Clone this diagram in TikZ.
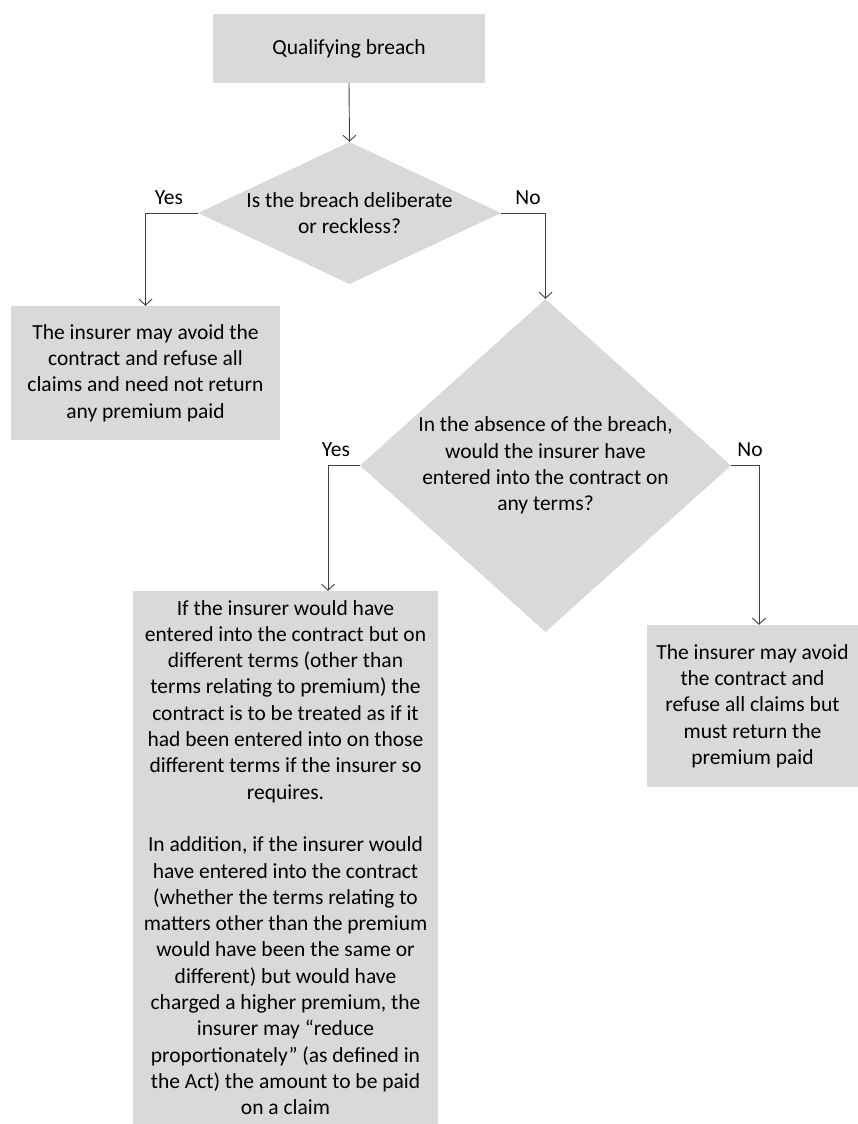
\documentclass[tikz,border=0pt]{standalone}
\usepackage{fontspec}
\setmainfont{Carlito}
\usetikzlibrary{positioning}
\usetikzlibrary{shapes.geometric}
\usetikzlibrary{arrows.meta}
\definecolor{boxgray}{HTML}{D9D9D9}
\definecolor{linegray}{HTML}{404040}

\begin{document}
\begin{tikzpicture}[x=1pt,y=-1pt,
    every node/.style={font=\fontsize{21.5pt}{26.3pt}\selectfont, align=center},
    >={Straight Barb[length=6pt,width=13pt]}]
    \tikzstyle outcome=[fill=boxgray, inner sep=0pt]
    \tikzstyle decision=[diamond, fill=boxgray, inner sep=0pt]
    \tikzstyle link=[color=linegray, line width=0.9pt, ->]

    \useasboundingbox (0,0) rectangle (858,1124);

    % Boxes and questions:
    \node[outcome, minimum width=272pt, minimum height=69pt] (breach) at (349,48.5) {Qualifying breach};
    \node[decision, minimum width=303pt, minimum height=142pt] (deliberate) at (349.5,213) {};
    \node (deliberatetext) at (deliberate.center) {Is the breach deliberate\\or reckless?};
    \node[outcome, minimum width=269pt, minimum height=134pt] (avoidall) at (145.5,373)
        {The insurer may avoid the\\contract and refuse all\\claims and need not return\\any premium paid};
    \node[decision, minimum width=371pt, minimum height=333pt] (anyterms) at (545.5,465.5) {};
    \node (anytermstext) at (anyterms.center)
        {In the absence of the breach,\\would the insurer have\\entered into the contract on\\any terms?};
    \node[outcome, minimum width=305pt, minimum height=533pt] (otherterms) at (285.5,857.5)
        {If the insurer would have\\entered into the contract but on\\different terms (other than\\terms relating to premium) the\\contract is to be treated as if it\\had been entered into on those\\different terms if the insurer so\\requires.\\[26.3pt]
         In addition, if the insurer would\\have entered into the contract\\(whether the terms relating to\\matters other than the premium\\would have been the same or\\different) but would have\\charged a higher premium, the\\insurer may “reduce\\proportionately” (as defined in\\the Act) the amount to be paid\\on a claim};
    \node[outcome, minimum width=211pt, minimum height=162pt] (returnpremium) at (752.5,706)
        {The insurer may avoid\\the contract and\\refuse all claims but\\must return the\\premium paid};

    % Labels:
    \node (yesone) at (169,198) {Yes};
    \node (noone) at (528,198) {No};
    \node (yestwo) at (336,450) {Yes};
    \node (notwo) at (750,450) {No};

    % Connectors
    \coordinate (yesturn) at (328,465.5);
    \coordinate (noturn) at (759,465.5);
    \draw[link] (breach.south) -- (deliberate.north);
    \draw[link] (deliberate.west) -| (avoidall.north); % yes
    \draw[link] (deliberate.east) -| (anyterms.north); % no
    \draw[link] (anyterms.west) -- (yesturn) -- (yesturn |- otherterms.north); % yes
    \draw[link] (anyterms.east) -- (noturn) -- (noturn |- returnpremium.north); % no
\end{tikzpicture}
\end{document}
